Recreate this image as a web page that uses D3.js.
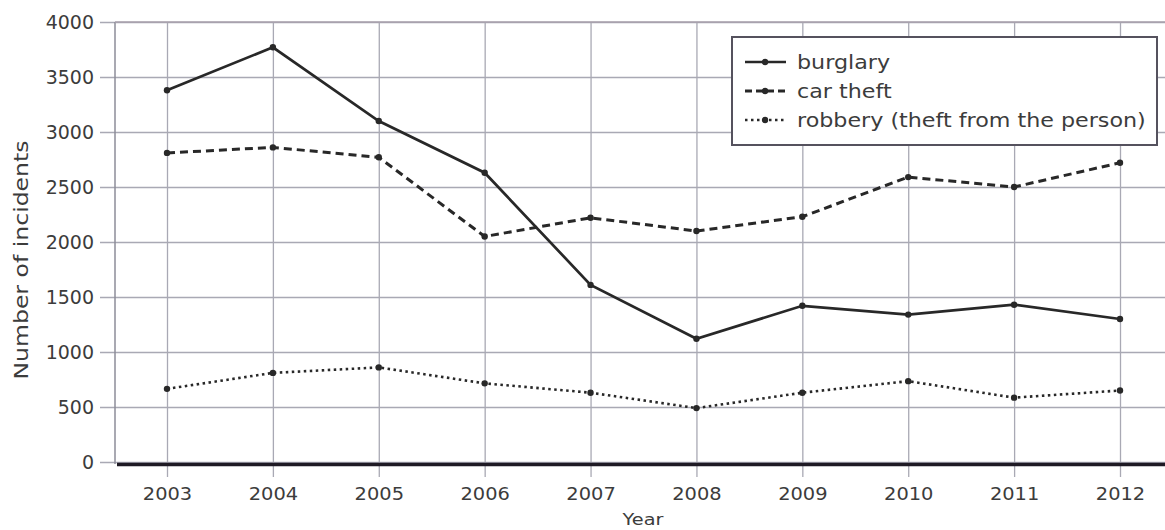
<!DOCTYPE html>
<html>
<head>
<meta charset="utf-8">
<script src="https://cdn.jsdelivr.net/npm/d3@7"></script>
<style>
  html, body { margin: 0; padding: 0; background: #fff; }
  svg { display: block; }
  svg text { font-family: "DejaVu Sans", "Open Sans", sans-serif; }
</style>
</head>
<body>
<svg id="chart" width="1165" height="530"></svg>
<script>
const years = [2003, 2004, 2005, 2006, 2007, 2008, 2009, 2010, 2011, 2012];
const burglary = [3380, 3770, 3100, 2630, 1610, 1120, 1420, 1340, 1430, 1300];
const carTheft = [2810, 2860, 2770, 2050, 2220, 2100, 2230, 2590, 2500, 2720];
const robbery  = [665, 810, 860, 715, 630, 490, 630, 735, 585, 650];
const yTicks = [0, 500, 1000, 1500, 2000, 2500, 3000, 3500, 4000];
const seriesNames = ["burglary", "car theft", "robbery (theft from the person)"];

const svg = d3.select("#chart");
const pL = 115, pR = 1165, pT = 22, pB = 462;

const x = d3.scalePoint().domain(years).range([167, 1120]);
const y = d3.scaleLinear().domain([0, 4000]).range([pB, pT]);

const gridColor = "#a9a9b4";
const inkColor = "#282828";
const textColor = "#3c3c3c";
const fontSize = "18.5px";

// horizontal gridlines + y ticks extending left
const yAxis = d3.axisLeft(y).tickValues(yTicks).tickSize(pR - 100).tickPadding(6).tickFormat(d3.format("d"));
const gy = svg.append("g").attr("transform", `translate(${pR},0)`).call(yAxis);
gy.select(".domain").remove();
gy.selectAll(".tick line").attr("stroke", gridColor).attr("stroke-width", 1.3);
gy.selectAll(".tick text").attr("fill", textColor).style("font-size", "19px");

// vertical gridlines extending below axis
const gx = svg.append("g").attr("transform", `translate(0,${pB + 15})`)
  .call(d3.axisBottom(x).tickSize(-(pB + 15 - pT)).tickPadding(10));
gx.select(".domain").remove();
gx.selectAll(".tick line").attr("stroke", gridColor).attr("stroke-width", 1.3);
gx.selectAll(".tick text").attr("fill", textColor).style("font-size", fontSize)
  .attr("transform", "scale(1.05,1)");

// plot frame left and top
svg.append("line").attr("x1", pL).attr("x2", pL).attr("y1", pT).attr("y2", pB + 2)
  .attr("stroke", "#8c8c98").attr("stroke-width", 1.5);
svg.append("line").attr("x1", pL).attr("x2", pR).attr("y1", pT).attr("y2", pT)
  .attr("stroke", "#a9a0ac").attr("stroke-width", 1.5);

// thick x axis line
svg.append("line").attr("x1", pL + 2).attr("x2", pR).attr("y1", y(0) + 2.5).attr("y2", y(0) + 2.5)
  .attr("stroke", "#1e1a24").attr("stroke-width", 3.5);

// axis titles
svg.append("text").attr("transform", "translate(643,525) scale(1.17,1)").attr("text-anchor", "middle")
  .attr("fill", textColor).style("font-size", "16.5px").text("Year");
svg.append("text").attr("transform", `translate(28,${(pT + pB) / 2 + 18}) rotate(-90) scale(1.24,1)`)
  .attr("text-anchor", "middle").attr("fill", textColor).style("font-size", "19px").text("Number of incidents");

const seriesData = [burglary, carTheft, robbery];
const styles = [
  { dash: null, width: 2.7 },
  { dash: "8,5", width: 3 },
  { dash: "2.5,3.5", width: 2.6 }
];
const line = d3.line().x((d, i) => x(years[i])).y(d => y(d));

seriesData.forEach((vals, si) => {
  svg.append("path").datum(vals).attr("d", line).attr("fill", "none")
    .attr("stroke", inkColor).attr("stroke-width", styles[si].width)
    .attr("stroke-dasharray", styles[si].dash);
  svg.append("g").selectAll("circle").data(vals).join("circle")
    .attr("cx", (d, i) => x(years[i])).attr("cy", d => y(d)).attr("r", 3.2).attr("fill", inkColor);
});

// legend
const lg = svg.append("g");
lg.append("rect").attr("x", 732).attr("y", 37).attr("width", 425).attr("height", 108)
  .attr("fill", "#fff").attr("stroke", "#55525e").attr("stroke-width", 2);
seriesNames.forEach((name, i) => {
  const cy = 62 + i * 29;
  lg.append("line").attr("x1", 745).attr("x2", 786).attr("y1", cy).attr("y2", cy)
    .attr("stroke", inkColor).attr("stroke-width", styles[i].width)
    .attr("stroke-dasharray", styles[i].dash === null ? null : (i === 1 ? "7,4" : "2.5,3.5"));
  lg.append("circle").attr("cx", 765).attr("cy", cy).attr("r", 3.2).attr("fill", inkColor);
  lg.append("text").attr("transform", `translate(797,${cy}) scale(1.17,1)`).attr("dy", "0.35em")
    .attr("fill", textColor).style("font-size", "19px").text(name);
});
</script>
</body>
</html>
